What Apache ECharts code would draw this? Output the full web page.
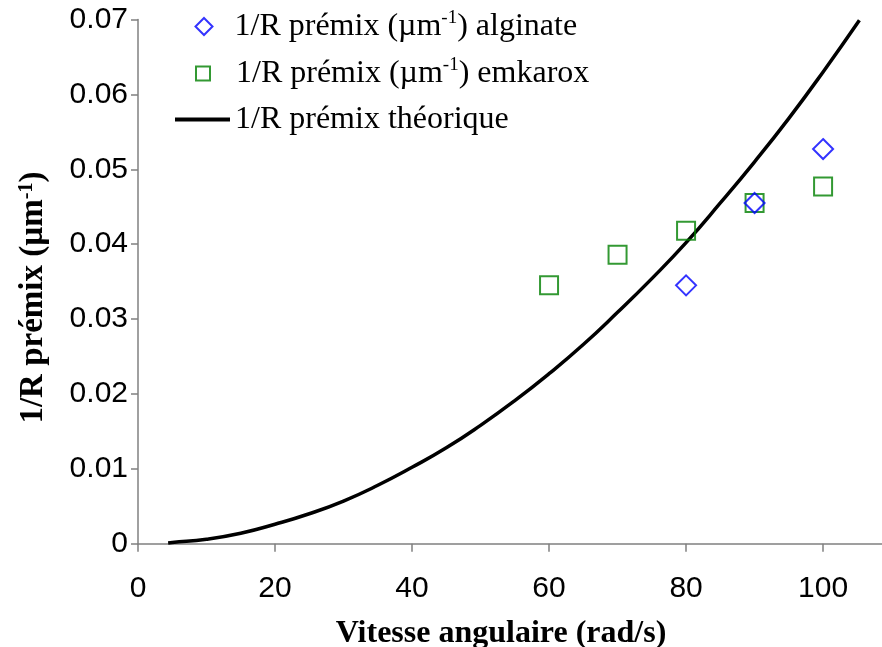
<!DOCTYPE html>
<html>
<head>
<meta charset="utf-8">
<script src="https://cdn.jsdelivr.net/npm/echarts@6/dist/echarts.min.js"></script>
<style>
html,body{margin:0;padding:0;background:#fff;}
#chart{width:882px;height:647px;}
</style>
</head>
<body>
<div id="chart"></div>
<script>
// Data
var alginateX = [80, 90, 100];
var alginateY = [0.0345, 0.0455, 0.0527];
var emkaroxX = [60, 70, 80, 90, 100];
var emkaroxY = [0.0345, 0.0386, 0.0418, 0.0455, 0.0477];
var theoX = [4.4, 5, 10, 15, 20, 25, 30, 35, 40, 45, 50, 55, 60, 65, 70, 75, 80, 85, 90, 95, 100, 105.3];
var theoY = [0.0001, 0.00016, 0.0006, 0.0014, 0.0026, 0.0040, 0.0057, 0.0078, 0.0102, 0.0128, 0.0158, 0.0191, 0.0227, 0.0266, 0.0309, 0.0354, 0.0402, 0.0455, 0.0510, 0.0568, 0.0630, 0.0699];
var xTicks = [0, 20, 40, 60, 80, 100];
var yTicks = [0, 0.01, 0.02, 0.03, 0.04, 0.05, 0.06, 0.07];
var seriesNames = ['1/R prémix (µm-1) alginate', '1/R prémix (µm-1) emkarox', '1/R prémix théorique'];
var xTitle = 'Vitesse angulaire (rad/s)';
var yTitle = '1/R prémix (µm{sup|-1})';

function zip(xs, ys) { return xs.map(function (x, i) { return [x, ys[i]]; }); }

var chart = echarts.init(document.getElementById('chart'));
var axisColor = '#808080';
var serif = '"Liberation Serif", "Times New Roman", serif';
var sans = '"Liberation Sans", Arial, sans-serif';

function legendText(padLeft) {
  return {
    fontFamily: serif, fontSize: 32, color: '#000', lineHeight: 35,
    padding: [0, 0, 0, padLeft],
    rich: {
      sup: { fontFamily: serif, fontSize: 19, verticalAlign: 'top', lineHeight: 24, color: '#000' }
    }
  };
}
function legendFmt(name) { return name.replace('-1', '{sup|-1}'); }

chart.setOption({
  animation: false,
  backgroundColor: '#ffffff',
  grid: { left: 138, right: 0, top: 19.5, bottom: 103.3, containLabel: false, outerBoundsMode: 'none' },
  legend: [
    {
      orient: 'vertical', left: 189.5, top: 4, itemWidth: 17, itemHeight: 17,
      textStyle: legendText(17), formatter: legendFmt,
      data: [{ name: seriesNames[0], icon: 'diamond', itemStyle: { color: '#fff', borderColor: '#0000ff', borderWidth: 2 } }]
    },
    {
      orient: 'vertical', left: 190, top: 51, itemWidth: 14, itemHeight: 14,
      textStyle: legendText(21), formatter: legendFmt,
      data: [{ name: seriesNames[1], icon: 'rect', itemStyle: { color: '#fff', borderColor: '#008000', borderWidth: 2 } }]
    },
    {
      orient: 'vertical', left: 170, top: 97, itemWidth: 55, itemHeight: 4,
      textStyle: legendText(0), formatter: legendFmt,
      data: [{ name: seriesNames[2], icon: 'rect', itemStyle: { color: '#000', borderWidth: 0 } }]
    }
  ],
  xAxis: {
    type: 'value', min: 0, max: 108.6,
    name: xTitle, nameLocation: 'middle', nameGap: 74,
    nameTextStyle: { fontFamily: serif, fontSize: 32, fontWeight: 'bold', color: '#000', padding: [0, 18, 0, 0] },
    axisLine: { show: true, lineStyle: { color: axisColor, width: 1.5 } },
    axisTick: { show: true, length: 8, customValues: xTicks, lineStyle: { color: axisColor, width: 1.5 } },
    axisLabel: { customValues: xTicks, margin: 30, fontFamily: sans, fontSize: 30, color: '#000' },
    splitLine: { show: false }
  },
  yAxis: {
    type: 'value', min: 0, max: 0.07, interval: 0.01,
    name: yTitle, nameLocation: 'middle', nameGap: 88, nameRotate: 90,
    nameTextStyle: {
      fontFamily: serif, fontSize: 33, fontWeight: 'bold', color: '#000',
      padding: [0, 32, 0, 0],
      rich: { sup: { fontFamily: serif, fontSize: 20, fontWeight: 'bold', verticalAlign: 'top', lineHeight: 26, color: '#000' } }
    },
    axisLine: { show: true, lineStyle: { color: axisColor, width: 1.5 } },
    axisTick: { show: true, length: 7, lineStyle: { color: axisColor, width: 1.5 } },
    axisLabel: {
      margin: 10, fontFamily: sans, fontSize: 30, color: '#000', padding: [12, 0, 0, 0],
      formatter: function (v) { return String(Math.round(v * 100) / 100); }
    },
    splitLine: { show: false }
  },
  series: [
    {
      name: seriesNames[0], type: 'scatter', data: zip(alginateX, alginateY),
      symbol: 'diamond', symbolSize: 20, z: 4,
      itemStyle: { color: 'rgba(255,255,255,0)', borderColor: '#0000ff', borderWidth: 2 }
    },
    {
      name: seriesNames[1], type: 'scatter', data: zip(emkaroxX, emkaroxY),
      symbol: 'rect', symbolSize: 18, z: 3,
      itemStyle: { color: 'rgba(255,255,255,0)', borderColor: '#008000', borderWidth: 2 }
    },
    {
      name: seriesNames[2], type: 'line', data: zip(theoX, theoY),
      showSymbol: false, symbol: 'none', smooth: true, z: 2,
      lineStyle: { color: '#000', width: 3.5 }, itemStyle: { color: '#000' }
    }
  ]
});
</script>
</body>
</html>
